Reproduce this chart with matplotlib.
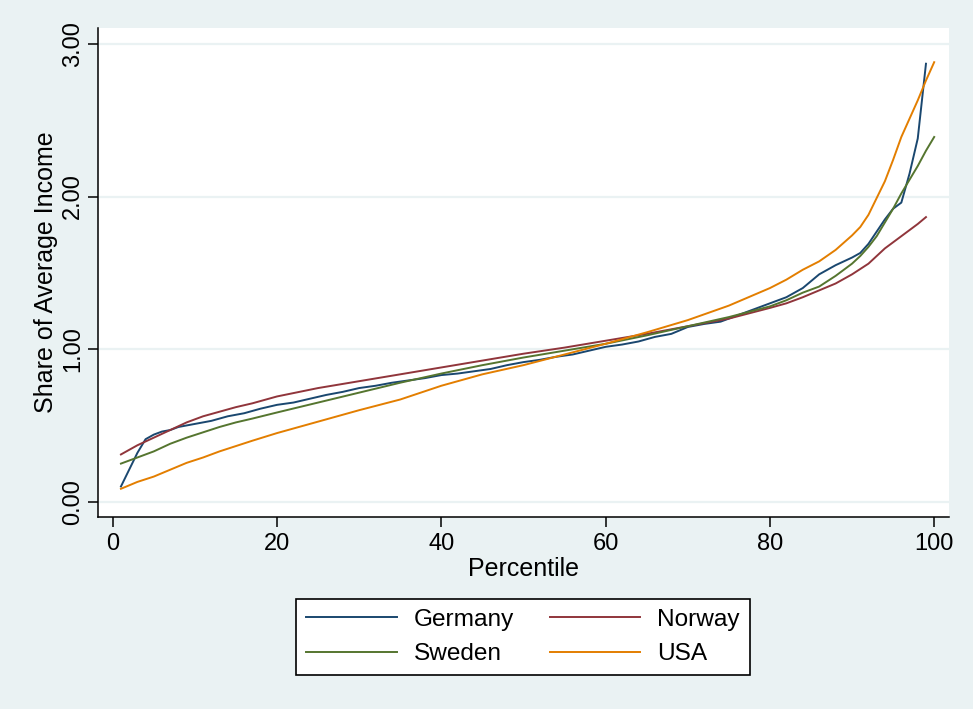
import matplotlib
matplotlib.use("Agg")
import matplotlib.pyplot as plt

plt.rcParams['font.family'] = ['Liberation Sans', 'DejaVu Sans']

# percentile -> share of average income
germany_p = [1, 2, 3, 4, 5, 6, 7, 8, 9, 10, 12, 14, 16, 18, 20, 22, 24, 26, 28, 30,
             32, 34, 36, 38, 40, 42, 44, 46, 48, 50, 52, 54, 56, 58, 60, 62, 64, 66,
             68, 70, 72, 74, 76, 78, 80, 82, 84, 86, 88, 90, 91, 92, 93, 94, 95, 96,
             97, 98, 99]
germany_v = [0.10, 0.21, 0.32, 0.41, 0.44, 0.46, 0.47, 0.49, 0.50, 0.51, 0.53, 0.56,
             0.58, 0.61, 0.635, 0.65, 0.675, 0.70, 0.72, 0.745, 0.76, 0.78, 0.795,
             0.81, 0.83, 0.84, 0.855, 0.87, 0.895, 0.915, 0.93, 0.95, 0.965, 0.99,
             1.015, 1.03, 1.05, 1.08, 1.10, 1.145, 1.165, 1.18, 1.22, 1.26, 1.30,
             1.34, 1.40, 1.49, 1.55, 1.60, 1.63, 1.69, 1.77, 1.85, 1.92, 1.96, 2.15,
             2.38, 2.87]

norway_p = [1, 3, 5, 7, 9, 11, 13, 15, 17, 20, 25, 30, 35, 40, 45, 50, 55, 60, 65,
            70, 75, 80, 82, 84, 86, 88, 90, 92, 94, 95, 96, 97, 98, 99]
norway_v = [0.31, 0.37, 0.42, 0.47, 0.52, 0.56, 0.59, 0.62, 0.645, 0.69, 0.745,
            0.79, 0.835, 0.88, 0.925, 0.97, 1.01, 1.055, 1.10, 1.15, 1.20, 1.27,
            1.30, 1.34, 1.385, 1.43, 1.49, 1.56, 1.66, 1.70, 1.74, 1.78, 1.82, 1.865]

sweden_p = [1, 3, 5, 7, 9, 11, 13, 15, 17, 20, 25, 30, 35, 40, 45, 50, 55, 60, 65,
            70, 75, 80, 82, 84, 86, 88, 90, 91, 92, 93, 94, 95, 96, 97, 98, 99, 100]
sweden_v = [0.25, 0.29, 0.33, 0.38, 0.42, 0.455, 0.49, 0.52, 0.545, 0.585, 0.65,
            0.715, 0.78, 0.84, 0.895, 0.945, 0.99, 1.035, 1.09, 1.15, 1.21, 1.28,
            1.32, 1.37, 1.41, 1.48, 1.56, 1.61, 1.67, 1.74, 1.83, 1.92, 2.02, 2.11,
            2.20, 2.30, 2.39]

usa_p = [1, 3, 5, 7, 9, 11, 13, 15, 17, 20, 25, 30, 35, 40, 45, 50, 55, 60, 65, 70,
         75, 80, 82, 84, 86, 88, 90, 91, 92, 93, 94, 95, 96, 97, 98, 99, 100]
usa_v = [0.085, 0.13, 0.165, 0.21, 0.255, 0.29, 0.33, 0.365, 0.40, 0.45, 0.525,
         0.60, 0.67, 0.76, 0.835, 0.895, 0.965, 1.035, 1.11, 1.19, 1.285, 1.40,
         1.455, 1.52, 1.575, 1.65, 1.745, 1.80, 1.88, 1.99, 2.10, 2.24, 2.39, 2.51,
         2.63, 2.76, 2.88]

x_ticks = [0, 20, 40, 60, 80, 100]
y_ticks = [0, 1, 2, 3]
y_tick_labels = ["0.00", "1.00", "2.00", "3.00"]

bg = "#EAF2F3"
fs_tick = 17
fs_title = 18

fig = plt.figure(figsize=(9.73, 7.09), dpi=100, facecolor=bg)
ax = fig.add_axes([0.1004, 0.2712, 0.8749, 0.6893])
ax.set_facecolor("white")

ax.plot(germany_p, germany_v, color="#1A476F", lw=1.4, label="Germany")
ax.plot(norway_p, norway_v, color="#90353B", lw=1.4, label="Norway")
ax.plot(sweden_p, sweden_v, color="#55752F", lw=1.4, label="Sweden")
ax.plot(usa_p, usa_v, color="#E37E00", lw=1.4, label="USA")

ax.set_xlim(-1.83, 101.8)
ax.set_ylim(-0.098, 3.104)
ax.set_xticks(x_ticks)
ax.set_yticks(y_ticks)
ax.set_yticklabels(y_tick_labels, rotation=90, va="center")
ax.tick_params(axis="both", direction="out", length=7, width=1.1,
               labelsize=fs_tick, color="black")
ax.tick_params(axis="y", pad=3)
ax.tick_params(axis="x", pad=5)
ax.grid(axis="y", color=bg, lw=1.6)
ax.set_axisbelow(True)

for s in ["top", "right"]:
    ax.spines[s].set_visible(False)
for s in ["left", "bottom"]:
    ax.spines[s].set_linewidth(1.1)

ax.set_xlabel("Percentile", fontsize=fs_title, labelpad=1)
ax.set_ylabel("Share of Average Income", fontsize=fs_title, labelpad=3)

# legend order as in the reference: Germany, Norway / Sweden, USA
h, l = ax.get_legend_handles_labels()
order = [0, 2, 1, 3]
leg = fig.legend([h[i] for i in order], [l[i] for i in order], ncol=2,
                 loc="center", bbox_to_anchor=(0.5375, 0.1016), fontsize=17.6,
                 frameon=True, fancybox=False, edgecolor="black", framealpha=1,
                 facecolor="white", handlelength=3.7, handletextpad=0.7,
                 columnspacing=1.45, labelspacing=0.5, borderpad=0.4)
leg.get_frame().set_linewidth(1.2)

fig.savefig("out.png", dpi=100, facecolor=bg)
